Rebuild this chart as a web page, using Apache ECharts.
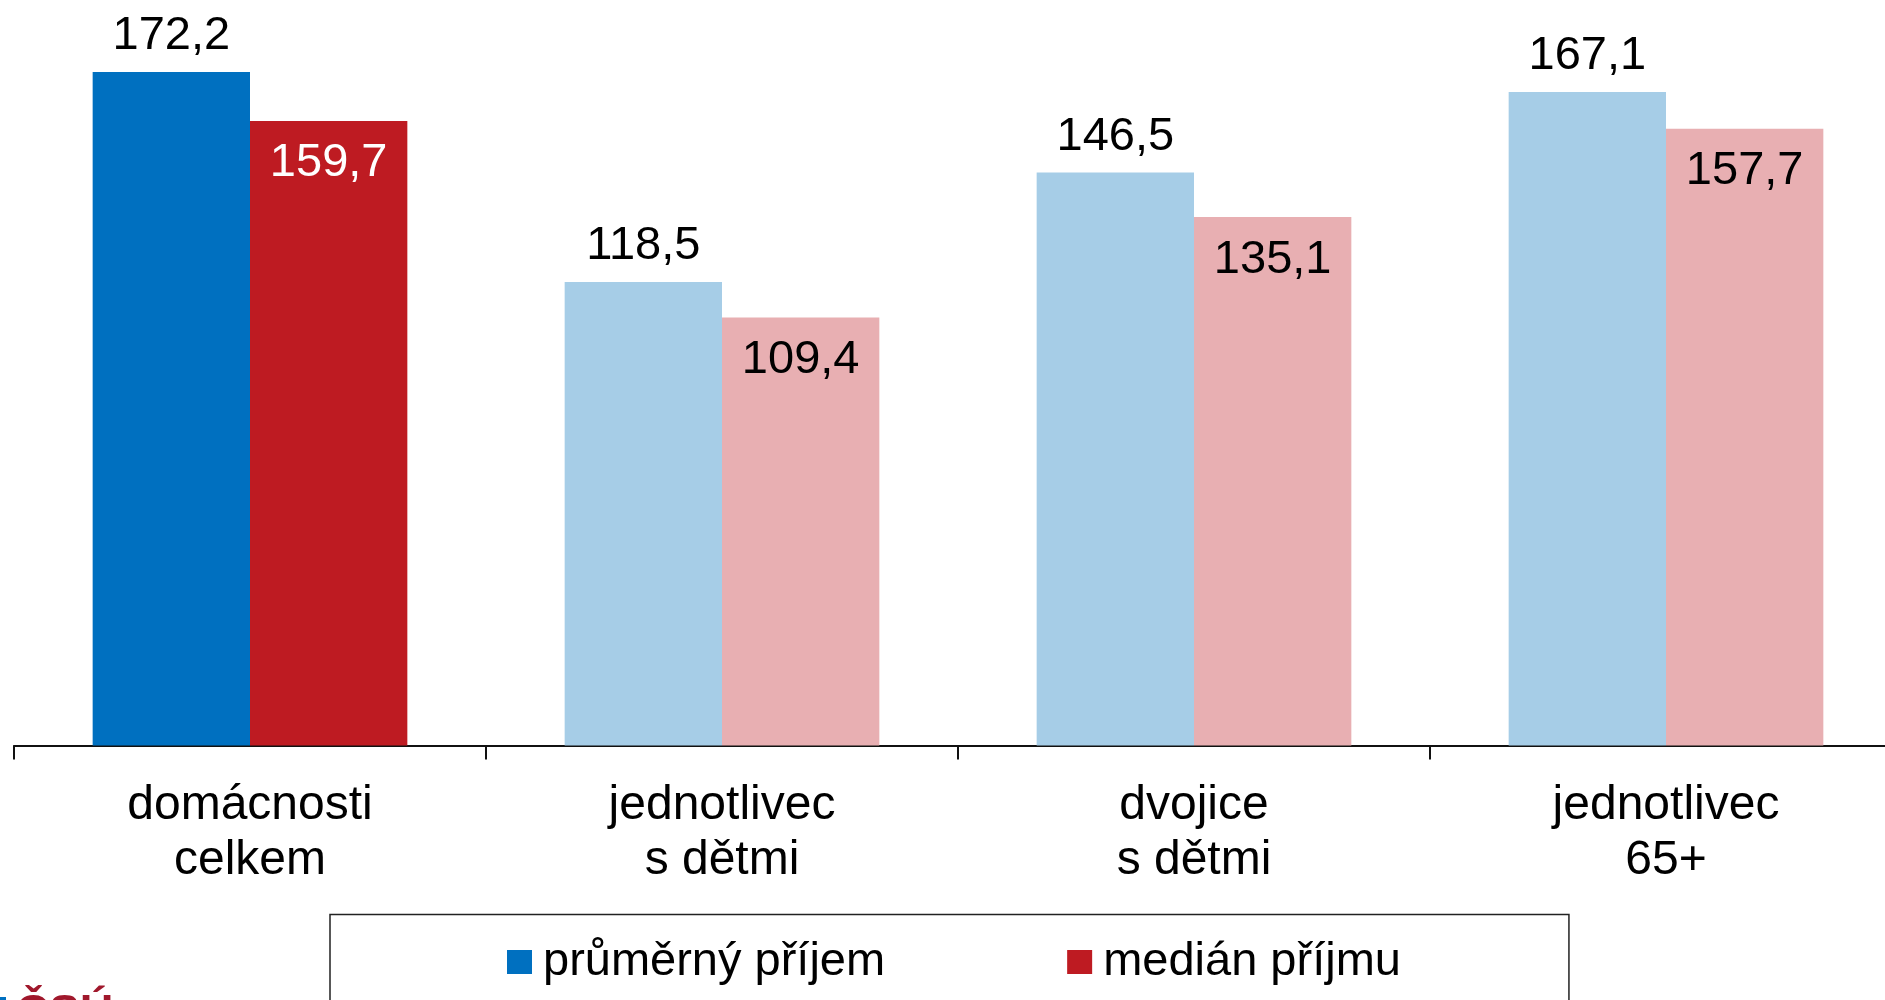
<!DOCTYPE html>
<html>
<head>
<meta charset="utf-8">
<script src="https://cdn.jsdelivr.net/npm/echarts@6/dist/echarts.min.js"></script>
<style>html,body{margin:0;padding:0;background:#fff;}#c{width:1885px;height:1000px;}</style>
</head>
<body>
<div id="c"></div>
<script>
var categories = ['domácnosti\ncelkem', 'jednotlivec\ns dětmi', 'dvojice\ns dětmi', 'jednotlivec\n65+'];
var seriesNames = ['průměrný příjem', 'medián příjmu'];
var meanIncome = [172.2, 118.5, 146.5, 167.1];
var medianIncome = [159.7, 109.4, 135.1, 157.7];

var blueDark = '#0070C0', blueLight = '#A6CDE7';
var redDark = '#BE1B22', redLight = '#E8AFB2';
var FONT = 'Liberation Sans, Arial, sans-serif';

function fmt(p) { return String(p.value.toFixed(1)).replace('.', ','); }

function build(values, dark, light, firstLabelColor) {
  return values.map(function (v, i) {
    return {
      value: v,
      itemStyle: { color: i === 0 ? dark : light },
      label: { color: i === 0 ? firstLabelColor : '#000' }
    };
  });
}

var chart = echarts.init(document.getElementById('c'));
chart.setOption({
  animation: false,
  backgroundColor: '#fff',
  grid: { left: 14, width: 1888, top: 41.5, height: 704, containLabel: false, outerBoundsMode: 'none' },
  legend: {
    left: 330, top: 914.5,
    padding: [24, 168, 70, 177],
    borderColor: '#222', borderWidth: 1.5,
    itemWidth: 25, itemHeight: 24, itemGap: 182,
    itemStyle: { borderWidth: 0 },
    textStyle: { fontFamily: FONT, fontSize: 47, color: '#000', padding: [0, 0, 0, 6] },
    icon: 'rect',
    data: [
      { name: seriesNames[0], itemStyle: { color: blueDark } },
      { name: seriesNames[1], itemStyle: { color: redDark } }
    ]
  },
  xAxis: {
    type: 'category',
    data: categories,
    axisLine: { lineStyle: { color: '#111', width: 2 } },
    axisTick: { show: true, length: 14, lineStyle: { color: '#111', width: 2 } },
    axisLabel: { fontFamily: FONT, fontSize: 48, color: '#000', lineHeight: 55, margin: 33, interval: 0 }
  },
  yAxis: {
    type: 'value', min: 0, max: 180,
    show: false,
    splitLine: { show: false }
  },
  series: [
    {
      name: seriesNames[0], type: 'bar',
      barGap: '0%', barCategoryGap: '33.33%',
      itemStyle: { color: blueDark },
      label: { show: true, position: 'top', distance: 12, fontFamily: FONT, fontSize: 47, formatter: fmt },
      data: build(meanIncome, blueDark, blueLight, '#000')
    },
    {
      name: seriesNames[1], type: 'bar',
      barGap: '0%', barCategoryGap: '33.33%',
      itemStyle: { color: redDark },
      label: { show: true, position: 'insideTop', distance: 19, fontFamily: FONT, fontSize: 47, formatter: fmt },
      data: build(medianIncome, redDark, redLight, '#fff')
    }
  ],
  graphic: [
    { type: 'text', left: 16, top: 991, style: { text: 'ČSÚ', fontFamily: FONT, fontWeight: 'bold', fontSize: 46, fill: '#A0182C' } },
    { type: 'rect', shape: { x: 0, y: 997, width: 6, height: 3 }, style: { fill: '#0070C0' } }
  ]
});
</script>
</body>
</html>
